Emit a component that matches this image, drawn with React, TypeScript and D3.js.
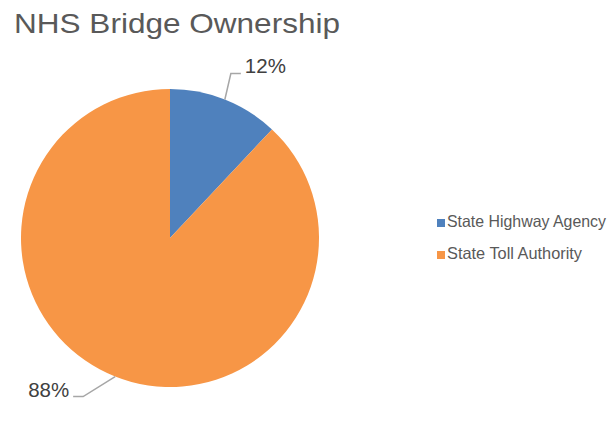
import React from "react";
import * as d3 from "d3";

const categories = ["State Highway Agency", "State Toll Authority"];
const values = [12, 88];
const colors = ["#4F81BD", "#F79646"];
const labelTexts = ["12%", "88%"];
const title = "NHS Bridge Ownership";
const legendWidths = [159, 135];

const W = 613;
const H = 435;
const cx = 170;
const cy = 238;
const R = 149;
// leader elbow offsets from slice edge point, and horizontal run
const elbowOffsets: [number, number][] = [
  [6, -26],
  [-32, 20],
];
const run = 10;

export default function App() {
  const pie = d3.pie<number>().sort(null).startAngle(0).endAngle(2 * Math.PI);
  const arcs = pie(values);
  const arc = d3.arc<d3.PieArcDatum<number>>().innerRadius(0).outerRadius(R);

  return (
    <svg
      width={W}
      height={H}
      style={{ position: "absolute", left: 0, top: 0, background: "#fff" }}
      fontFamily="'Liberation Sans', Arial, sans-serif"
    >
      <text x={14} y={33} fontSize={28} fill="#595959" textLength={326} lengthAdjust="spacingAndGlyphs">
        {title}
      </text>
      <g transform={`translate(${cx},${cy})`}>
        {arcs.map((a, i) => (
          <path key={i} d={arc(a) || ""} fill={colors[i]} />
        ))}
      </g>
      {arcs.map((a, i) => {
        const mid = (a.startAngle + a.endAngle) / 2;
        const ex = cx + R * Math.sin(mid);
        const ey = cy - R * Math.cos(mid);
        const bx = ex + elbowOffsets[i][0];
        const by = ey + elbowOffsets[i][1];
        const right = Math.sin(mid) >= 0;
        const tx = bx + (right ? run : -run);
        return (
          <g key={i}>
            <polyline
              points={`${ex},${ey} ${bx},${by} ${tx},${by}`}
              fill="none"
              stroke="#A6A6A6"
              strokeWidth={1.5}
            />
            <text
              x={tx + (right ? 4 : -4)}
              y={by}
              fontSize={20}
              fill="#404040"
              textAnchor={right ? "start" : "end"}
              textLength={41}
              lengthAdjust="spacingAndGlyphs"
            >
              {labelTexts[i]}
            </text>
          </g>
        );
      })}
      {categories.map((c, i) => (
        <g key={c}>
          <rect x={437} y={219 + i * 32} width={8} height={8} fill={colors[i]} />
          <text
            x={447}
            y={227 + i * 31.5}
            fontSize={16.5}
            fill="#595959"
            textLength={legendWidths[i]}
            lengthAdjust="spacingAndGlyphs"
          >
            {c}
          </text>
        </g>
      ))}
    </svg>
  );
}
